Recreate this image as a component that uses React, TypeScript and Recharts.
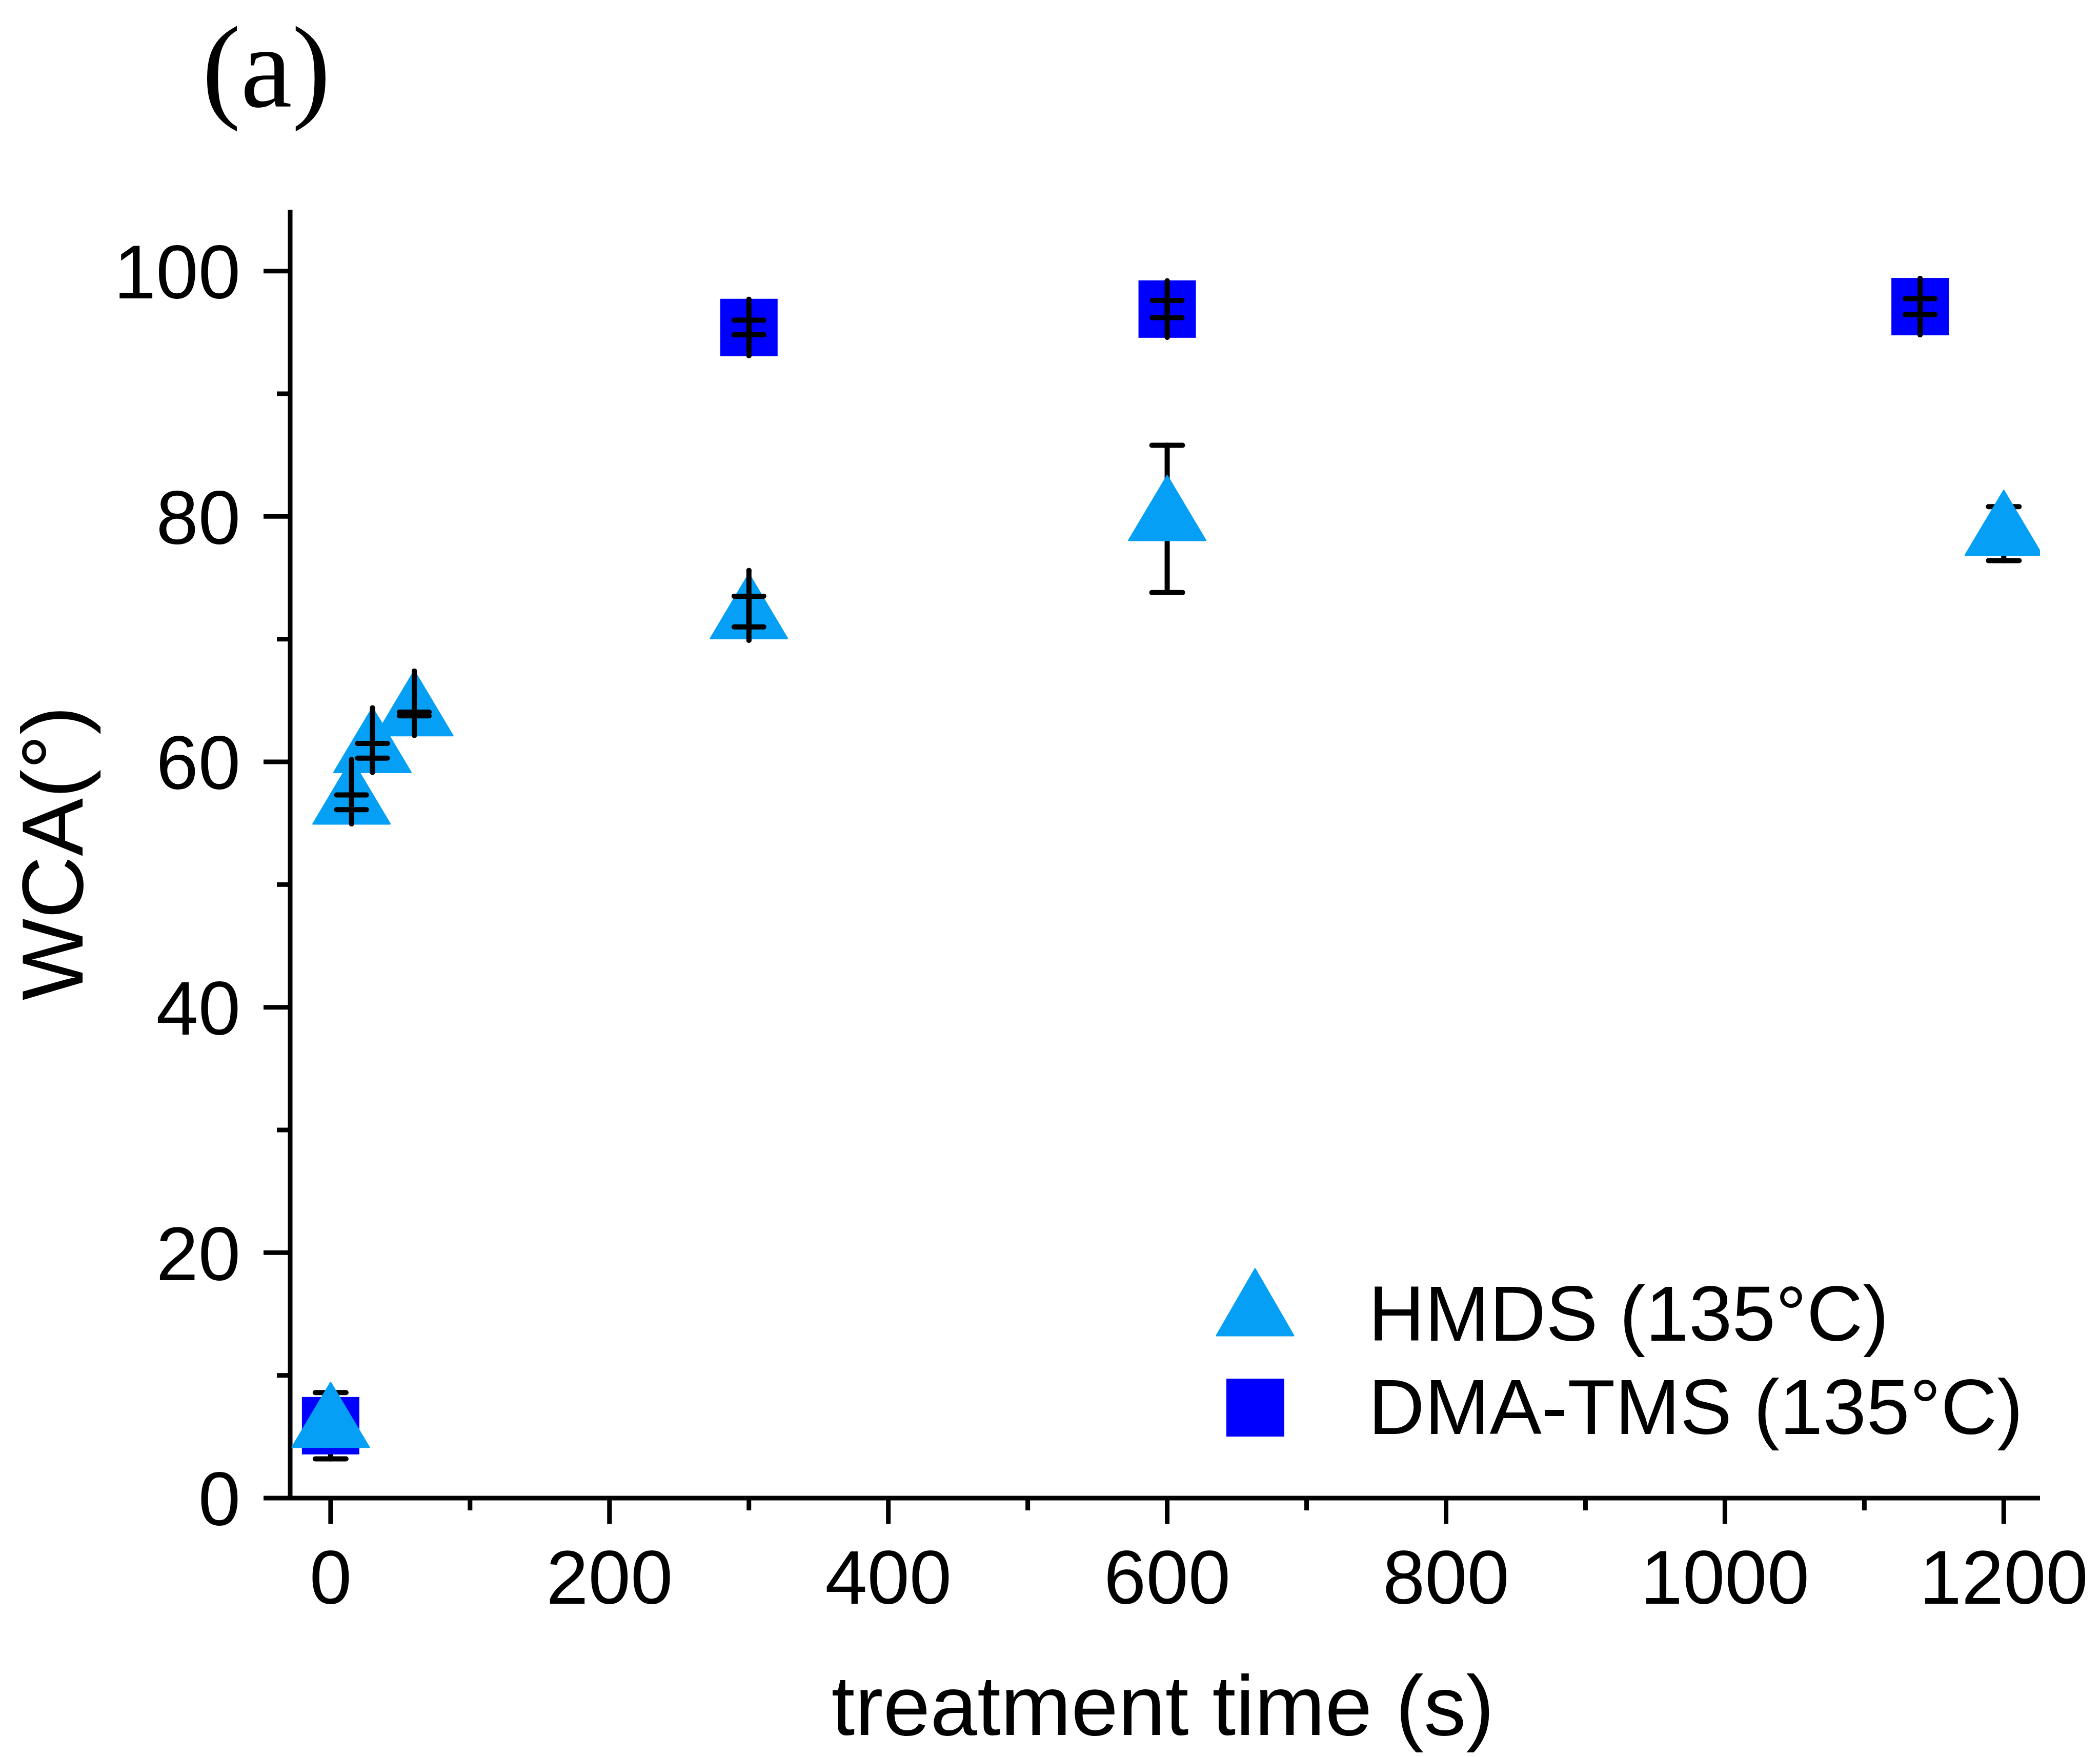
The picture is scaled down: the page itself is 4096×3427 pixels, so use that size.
import React from "react";
import { ScatterChart, Scatter, XAxis, YAxis, ErrorBar, Label } from "recharts";

// HMDS (135°C) - triangles
const hmdsTime = [0, 15, 30, 60, 300, 600, 1200];
const hmdsWca = [5.9, 56.7, 60.9, 63.9, 71.8, 79.8, 78.6];
// error bars hidden behind the triangle body
const hmdsErr = [2.7, null, null, null, null, 6.0, 2.2];
// short caps drawn over the symbol: [below, above]
const hmdsCap = [null, [0.6, 0.6], [0.6, 0.6], [0.15, 0.15], [0.8, 1.7], null, null];
// vertical stroke through the symbol: [below, above]
const hmdsSpan = [null, [1.75, 3.5], [1.75, 3.5], [1.75, 3.5], [1.9, 3.8], null, null];

// DMA-TMS (135°C) - squares
const dmaTime = [0, 300, 600, 1140];
const dmaWca = [5.9, 95.4, 96.9, 97.1];
const dmaCap = [null, [0.6, 0.6], [0.7, 0.7], [0.65, 0.65]];
const dmaSpan = [null, [2.3, 2.3], [2.3, 2.3], [2.3, 2.3]];

const xTicks = [0, 100, 200, 300, 400, 500, 600, 700, 800, 900, 1000, 1100, 1200];
const yTicks = [0, 10, 20, 30, 40, 50, 60, 70, 80, 90, 100];

const hmdsRows = hmdsTime.map((t, i) => ({
  t,
  wca: hmdsWca[i],
  err: hmdsErr[i],
  cap: hmdsCap[i],
  span: hmdsSpan[i],
}));
const dmaRows = dmaTime.map((t, i) => ({
  t,
  wca: dmaWca[i],
  cap: dmaCap[i],
  span: dmaSpan[i],
}));

const FONT = "'Liberation Sans', Arial, sans-serif";
const TRI = "#05A0F5";
const SQ = "#0000FF";

// error bar lines ignore strokeWidth in some builds, so force it with css
const barCss = `
.recharts-errorBar line, .recharts-errorBar { stroke: #000; stroke-width: 10px; stroke-linecap: round; }
`;

const Triangle = (p: any) => {
  const { cx, cy } = p;
  return (
    <polygon
      points={`${cx},${cy - 84} ${cx + 75},${cy + 42} ${cx - 75},${cy + 42}`}
      fill={TRI}
      stroke={TRI}
      strokeWidth={3}
      strokeLinejoin="round"
    />
  );
};

const Square = (p: any) => {
  const { cx, cy } = p;
  return <rect x={cx - 56} y={cy - 56} width={112} height={112} fill={SQ} />;
};

const Empty = () => <g />;

const XTick = (props: any) => {
  const { x, y, payload } = props;
  const major = payload.value % 200 === 0;
  return (
    <g>
      <line x1={x} x2={x} y1={y} y2={y + (major ? 50 : 24)} stroke="#000" strokeWidth={9} />
      {major && (
        <text x={x} y={y + 206} textAnchor="middle" fontFamily={FONT} fontSize={148} fill="#000">
          {payload.value}
        </text>
      )}
    </g>
  );
};

const YTick = (props: any) => {
  const { x, y, payload } = props;
  const major = payload.value % 20 === 0;
  return (
    <g>
      <line x1={x} x2={x - (major ? 52 : 26)} y1={y} y2={y} stroke="#000" strokeWidth={9} />
      {major && (
        <text x={x - 97} y={y} dy="0.36em" textAnchor="end" fontFamily={FONT} fontSize={148} fill="#000">
          {payload.value}
        </text>
      )}
    </g>
  );
};

const bar = { stroke: "#000", strokeWidth: 10, strokeLinecap: "round" as const, isAnimationActive: false };

export default function App() {
  return (
    <div style={{ position: "absolute", left: 0, top: 0, width: 4096, height: 3427, background: "#fff" }}>
      <style>{barCss}</style>
      <ScatterChart width={4096} height={3427} margin={{ top: 409, right: 117, bottom: 0, left: 0 }}>
        <XAxis
          type="number"
          dataKey="t"
          domain={[-29, 1226]}
          allowDataOverflow
          ticks={xTicks}
          interval={0}
          height={505}
          tickSize={0}
          tickMargin={0}
          tickLine={false}
          tick={<XTick />}
          axisLine={{ stroke: "#000", strokeWidth: 9 }}
        >
          <Label
            content={() => (
              <text x={2268} y={3384} textAnchor="middle" fontFamily={FONT} fontSize={165} fill="#000">
                treatment time (s)
              </text>
            )}
          />
        </XAxis>
        <YAxis
          type="number"
          dataKey="wca"
          domain={[0, 105]}
          allowDataOverflow
          ticks={yTicks}
          interval={0}
          width={566}
          tickSize={0}
          tickMargin={0}
          tickLine={false}
          tick={<YTick />}
          axisLine={{ stroke: "#000", strokeWidth: 9 }}
        >
          <Label
            content={() => (
              <text
                x={161}
                y={1664}
                transform="rotate(-90, 161, 1664)"
                textAnchor="middle"
                fontFamily={FONT}
                fontSize={169}
                fill="#000"
              >
                WCA(°)
              </text>
            )}
          />
        </YAxis>

        <Scatter name="DMA-TMS (135°C)" data={dmaRows} fill={SQ} shape={<Square />} isAnimationActive={false} />
        <Scatter name="HMDS (135°C)" data={hmdsRows} fill={TRI} shape={<Triangle />} isAnimationActive={false}>
          <ErrorBar dataKey="err" direction="y" width={30} {...bar} />
        </Scatter>

        {/* error marks drawn over the symbols */}
        <Scatter data={dmaRows} shape={<Empty />} legendType="none" isAnimationActive={false} zIndex={700}>
          <ErrorBar dataKey="span" direction="y" width={0} zIndex={700} {...bar} />
          <ErrorBar dataKey="cap" direction="y" width={29} zIndex={700} {...bar} />
        </Scatter>
        <Scatter data={hmdsRows} shape={<Empty />} legendType="none" isAnimationActive={false} zIndex={700}>
          <ErrorBar dataKey="span" direction="y" width={0} zIndex={700} {...bar} />
          <ErrorBar dataKey="cap" direction="y" width={29} zIndex={700} {...bar} />
        </Scatter>

        {/* panel letter */}
        <text x={394} y={208} fontFamily="'Liberation Serif', 'Times New Roman', serif" fontSize={226} fill="#000">
          (a)
        </text>

        {/* legend */}
        <g fontFamily={FONT} fontSize={152} fill="#000">
          <polygon points="2448,2475 2523,2605 2373,2605" fill={TRI} stroke={TRI} strokeWidth={3} strokeLinejoin="round" />
          <text x={2669} y={2615}>HMDS (135°C)</text>
          <rect x={2392} y={2689} width={113} height={113} fill={SQ} />
          <text x={2669} y={2797}>DMA-TMS (135°C)</text>
        </g>
      </ScatterChart>
    </div>
  );
}
